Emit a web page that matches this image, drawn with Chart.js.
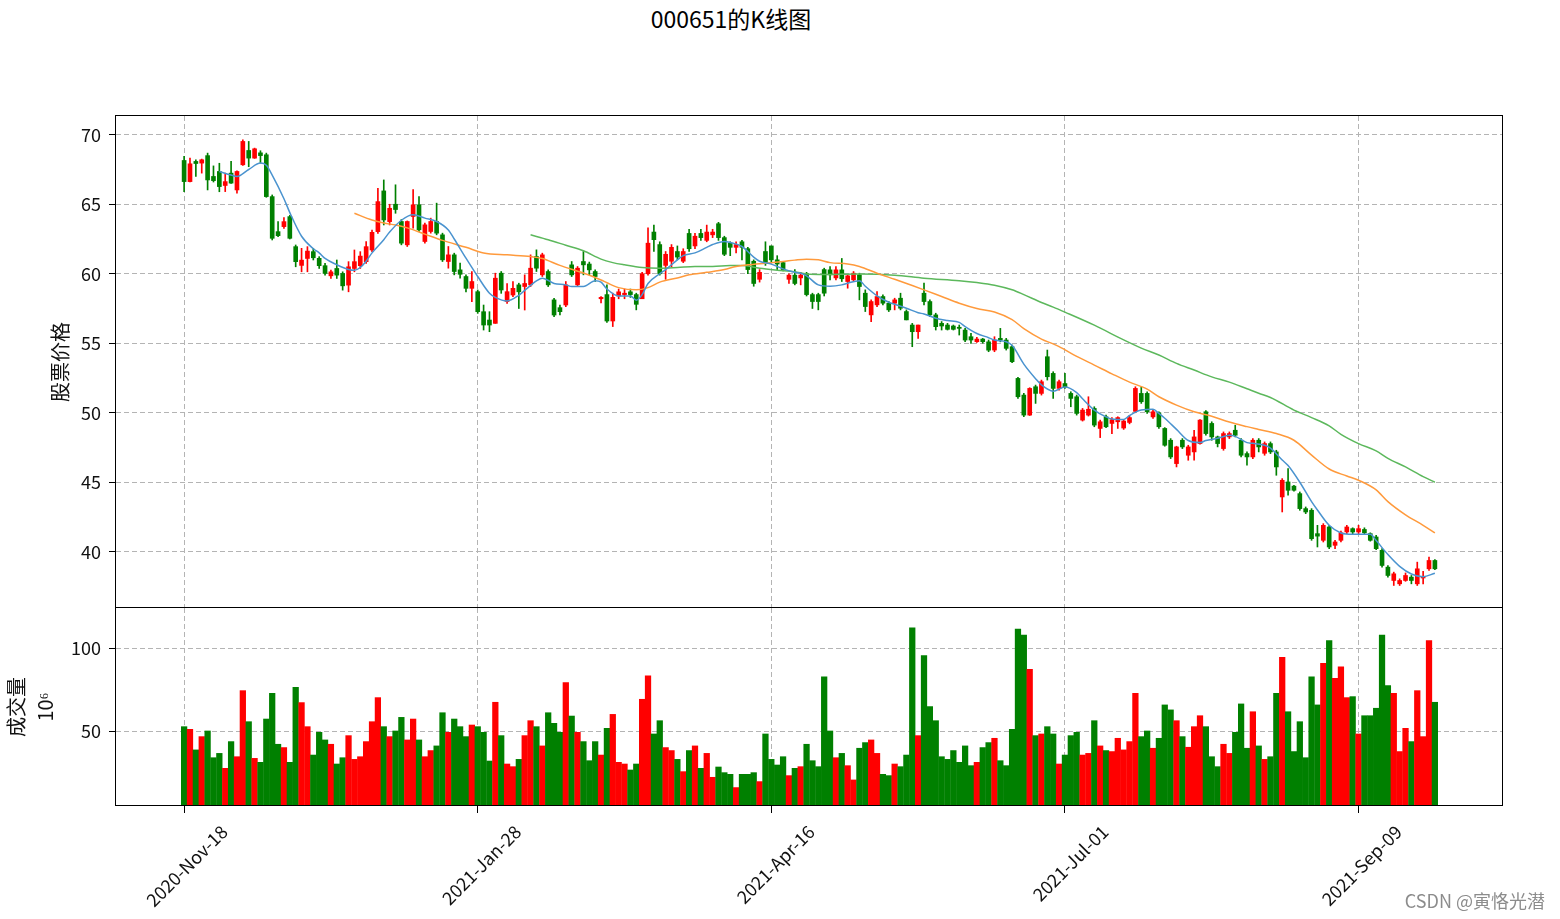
<!DOCTYPE html>
<html><head><meta charset="utf-8">
<script src="https://cdn.jsdelivr.net/npm/chart.js@4.4.0/dist/chart.umd.min.js"></script>
<style>
html,body{margin:0;padding:0;background:#fff;width:1560px;height:919px;overflow:hidden;}
canvas{position:absolute;left:0;top:0;}
#title{position:absolute;left:0;top:0;width:1462px;height:36px;line-height:36px;text-align:center;font-family:"Noto Sans CJK SC";font-size:23px;color:#000;}
#wm{position:absolute;right:15px;top:887px;font-family:"Noto Sans CJK SC";font-size:18px;color:#8c8c8c;}
</style></head><body>
<div id="title">000651的K线图</div>
<canvas id="price" width="1560" height="919"></canvas>
<canvas id="vol" width="1560" height="919"></canvas>
<div id="wm">CSDN @寅恪光潜</div>
<script>
const dateTickIdx = [0, 50, 100, 150, 200];
const dateTickLabels = ['2020-Nov-18', '2021-Jan-28', '2021-Apr-16', '2021-Jul-01', '2021-Sep-09'];
const priceTicks = [40, 45, 50, 55, 60, 65, 70];
const volTicks = [50, 100];

const opens = [68.15,66.63,68.08,67.96,68.5,67.0,67.36,66.35,67.24,66.03,
67.84,68.87,68.32,68.7,68.56,65.55,63.03,63.39,64.11,61.95,
60.6,61.1,61.59,61.11,60.58,59.85,60.38,60.02,59.18,60.38,
60.58,60.87,61.71,63.03,65.96,63.75,65.0,63.76,62.08,64.12,
64.96,62.32,63.04,63.76,62.8,60.88,61.36,60.28,59.8,58.95,
58.71,57.27,56.67,56.43,60.04,58.0,58.47,59.2,59.08,59.2,
61.24,59.92,60.16,58.12,57.56,57.75,60.64,59.2,60.88,60.7,
60.16,58.2,58.5,56.6,58.4,58.5,58.7,58.5,58.2,60.0,
63.0,62.1,60.6,60.9,61.6,60.9,62.9,62.0,62.9,62.4,
62.8,63.6,62.6,62.2,61.9,62.3,61.8,60.9,59.6,61.6,
62.0,61.0,60.8,59.6,59.9,59.7,60.0,58.5,58.5,60.3,
60.28,59.7,60.28,59.44,59.56,59.92,58.6,57.04,57.76,58.36,
57.88,57.88,58.24,57.28,56.31,55.83,58.6,58.0,57.04,56.43,
56.31,56.24,56.15,55.95,55.47,55.11,55.3,55.1,54.51,55.35,
55.23,54.75,52.47,51.27,49.83,51.87,51.39,54.03,52.83,51.75,
52.1,51.39,51.15,49.47,49.83,50.31,48.87,49.71,49.23,49.35,
48.9,49.3,50.1,51.39,51.39,49.7,49.99,48.87,48.02,46.34,
48.02,46.94,47.18,47.78,50.07,49.23,48.26,47.42,48.26,48.74,
48.02,47.06,46.82,48.02,47.08,47.78,47.18,43.94,45.02,44.72,
44.18,43.1,42.98,41.3,40.82,41.78,40.46,40.82,41.42,41.66,
41.42,41.6,41.3,41.06,40.1,38.89,37.93,37.69,37.93,38.17,
37.69,38.11,38.77,39.37];

const highs = [68.44,68.32,68.2,68.25,68.68,67.76,67.95,67.24,68.08,67.4,
69.64,69.52,69.04,68.85,68.68,65.67,63.75,64.04,64.2,62.07,
61.83,61.95,61.83,61.23,60.75,60.26,60.99,60.14,60.87,61.71,
61.59,62.31,63.15,66.15,66.75,65.0,66.4,63.9,63.8,66.05,
65.56,63.64,64.0,65.08,62.92,61.96,61.48,60.76,59.92,60.16,
58.83,57.75,57.27,60.04,60.16,59.3,59.44,59.32,59.92,61.36,
61.72,61.48,60.28,58.23,57.75,59.44,60.88,60.52,61.6,60.84,
60.28,58.35,59.2,58.6,58.9,58.9,58.9,58.6,60.1,63.3,
63.5,62.3,61.6,62.1,62.0,61.8,63.2,62.9,63.2,63.5,
63.2,63.7,62.7,62.3,62.3,62.4,61.9,61.0,60.3,62.3,
62.0,61.3,60.9,60.0,60.3,60.1,60.1,58.6,58.6,60.4,
60.52,60.52,61.1,59.92,60.16,60.04,58.84,58.12,58.72,58.48,
58.0,58.24,58.6,57.4,56.43,56.31,59.32,58.12,57.16,56.56,
56.43,56.31,56.31,56.07,55.71,55.42,55.35,55.23,55.47,56.07,
55.35,54.87,52.55,51.39,51.8,51.99,52.35,54.51,52.95,52.35,
52.83,51.51,51.27,50.31,51.15,50.43,49.47,49.83,49.65,49.71,
49.5,49.8,51.87,51.87,51.51,50.19,50.07,48.93,48.14,47.59,
48.14,47.66,48.74,49.5,50.15,49.35,48.32,48.62,48.62,49.1,
48.14,47.18,48.14,48.14,47.9,47.9,47.3,45.26,45.98,44.78,
44.3,43.22,43.1,41.9,42.02,41.9,40.82,41.48,41.9,41.72,
41.9,41.72,41.36,41.18,40.22,39.01,38.53,38.05,38.47,38.29,
39.25,38.59,39.62,39.43];

const lows = [65.91,66.6,67.0,67.24,66.03,66.6,65.9,65.91,66.5,65.8,
67.8,67.7,68.3,67.96,65.5,62.43,62.67,63.27,62.5,60.5,
60.14,60.14,60.99,60.38,59.9,59.66,59.66,58.82,58.7,60.14,
60.38,60.75,61.59,62.9,63.51,63.51,64.35,62.08,61.96,63.28,
63.04,62.2,62.92,62.8,60.88,60.4,59.92,59.68,58.7,57.99,
57.15,55.95,55.83,56.43,58.59,57.87,58.35,57.5,57.39,59.08,
60.16,59.8,59.08,56.91,57.03,57.63,59.8,59.08,59.92,59.92,
59.44,57.9,56.5,56.2,58.2,58.2,58.3,57.4,58.2,59.9,
61.6,59.9,59.6,60.5,61.0,60.8,61.6,61.8,62.4,62.3,
62.6,62.4,61.3,61.3,61.5,61.0,60.0,59.1,59.4,60.6,
60.8,60.3,60.2,59.3,59.2,59.2,58.4,57.5,57.4,58.4,
59.56,59.56,59.44,58.96,59.44,58.12,57.28,56.56,57.64,57.76,
57.28,57.4,57.4,56.68,54.75,55.35,57.76,56.92,55.95,55.95,
55.95,55.95,55.59,55.11,54.99,55.06,55.0,54.39,54.39,55.1,
54.51,53.6,51.03,49.71,49.8,50.67,51.27,52.35,51.03,51.63,
51.75,50.43,49.83,49.4,49.76,48.99,48.21,48.93,48.5,48.87,
48.8,49.2,50.0,50.67,49.95,49.59,48.87,47.59,46.7,46.1,
47.42,46.58,46.58,47.74,48.38,48.02,47.54,47.3,48.14,48.26,
46.82,46.22,46.7,47.18,46.94,47.06,45.5,42.86,44.06,44.36,
42.98,42.74,40.82,40.34,40.7,40.22,40.22,40.7,41.3,41.3,
41.3,41.24,40.76,40.15,38.89,38.17,37.57,37.57,37.87,37.69,
37.57,37.69,38.65,38.71];

const closes = [66.63,67.91,67.93,68.2,66.75,66.7,66.27,66.63,66.52,67.36,
69.52,68.32,68.99,68.5,65.55,62.55,62.74,63.75,62.55,60.87,
60.98,61.63,61.15,60.58,60.02,60.14,59.9,59.13,60.5,60.87,
61.27,61.95,62.98,65.19,63.87,64.71,64.62,62.2,63.76,64.96,
63.16,63.52,63.76,62.92,61.0,61.36,60.16,59.96,58.95,59.44,
57.27,56.31,56.31,59.68,58.83,58.71,58.95,58.7,59.3,60.4,
60.4,61.36,59.2,57.03,57.27,59.2,59.92,60.4,60.64,60.28,
59.8,58.3,56.6,58.3,58.7,58.6,58.5,57.8,60.0,62.2,
62.45,60.0,61.4,61.9,61.2,61.6,61.8,62.7,62.6,63.0,
63.0,62.6,61.4,61.9,62.1,61.9,60.3,59.3,60.1,60.8,
61.0,60.7,60.3,59.9,59.3,59.9,58.5,58.0,58.0,58.6,
59.92,60.28,59.64,59.85,60.04,59.08,57.64,58.0,58.36,57.88,
57.4,58.12,57.52,56.68,55.83,56.31,58.0,57.04,56.19,56.24,
56.0,56.0,56.07,55.23,55.23,55.3,55.11,54.5,55.23,55.23,
54.63,53.67,51.15,49.83,51.75,51.39,52.23,52.59,51.75,52.23,
51.87,51.03,49.95,50.19,50.25,49.11,49.35,48.99,49.5,49.65,
49.4,49.65,51.75,50.79,50.07,50.07,48.99,47.66,46.82,47.54,
47.54,47.54,48.26,49.47,48.5,48.26,47.78,48.5,48.5,48.38,
46.94,46.82,48.02,47.54,47.78,47.18,46.1,45.14,44.42,44.42,
43.1,42.86,40.94,41.12,41.9,40.34,40.7,41.36,41.78,41.42,
41.66,41.36,40.82,40.22,39.01,38.29,38.41,37.93,38.29,37.93,
38.77,38.23,39.37,38.77];

const volumes = [52.8,51.2,38.8,46.8,50.2,34.1,36.7,27.7,43.8,34.7,
74.5,55.8,33.7,31.3,57.4,72.9,42.2,40.2,31.3,76.5,
67.3,52.8,35.7,49.4,44.8,42.2,30.3,34.1,47.4,33.1,
34.7,43.8,55.8,70.3,52.8,46.8,50.2,58.4,44.8,57.4,
44.8,34.7,38.4,41.2,61.2,49.4,57.4,52.8,46.8,53.8,
52.8,49.4,32.1,67.5,47.4,30.3,28.7,33.1,47.4,56.4,
52.8,41.2,61.2,54.8,49.4,79.3,59.2,49.4,43.8,32.3,
43.8,35.7,51.8,60.2,31.3,30.3,26.7,30.3,69.3,83.5,
48.4,56.4,40.2,38.4,33.1,25.7,38.4,41.2,27.7,36.7,
22.3,28.5,25.1,24.1,16.1,24.1,24.1,25.1,19.7,48.4,
33.1,29.7,34.7,23.3,27.7,28.7,42.2,32.3,28.7,82.9,
50.2,34.1,36.7,29.3,20.7,39.8,43.2,44.8,36.7,24.1,
23.3,30.3,28.7,35.7,112.4,47.4,95.6,64.9,56.4,34.7,
33.1,38.4,31.3,41.2,29.3,31.3,40.2,43.2,45.8,32.3,
29.3,51.2,111.6,108.0,87.3,47.4,48.4,52.8,48.4,30.3,
35.7,47.4,49.4,35.7,36.7,56.4,41.2,38.4,37.8,45.8,
38.8,43.8,72.9,46.8,50.2,39.8,45.8,65.9,62.9,56.4,
46.8,40.4,52.8,59.4,52.8,34.7,28.7,42.2,36.7,49.4,
66.5,39.8,61.8,41.2,33.1,34.7,72.9,94.6,61.8,37.8,
55.8,34.1,82.9,65.9,91.0,104.6,81.9,88.9,70.3,70.9,
48.4,59.4,59.4,63.9,108.0,77.5,72.9,37.8,51.8,43.8,
74.5,46.8,104.6,67.5];

// moving averages (trading-day index, value)
const maFastIdx = [6,8,9,11,13,14,15,17,18,20,22,23,24,26,28,29,30,31,32,34,35,37,39,41,43,45,46,48,50,52,53,55,57,58,60,61,63,65,66,68,70,71,72,74,76,77,78,79,81,82,84,85,87,89,90,92,93,95,97,98,100,102,104,105,106,108,110,112,113,115,116,118,120,121,123,125,126,128,130,132,133,135,137,138,140,141,143,145,146,148,150,152,153,155,157,158,160,161,163,165,166,167,169,171,173,174,176,178,179,181,182,184,185,187,188,190,192,193,195,197,199,200,202,203,205,207,209,211,213];
const maFastVal = [67.36,67.1,67.0,67.5,67.96,67.8,67.1,65.4,64.4,62.7,61.8,61.5,61.1,60.65,60.31,60.25,60.45,60.9,61.5,62.45,63.0,63.85,64.24,64.0,63.76,63.15,62.5,61.12,59.8,58.6,58.3,58.04,58.45,58.8,59.48,59.68,59.3,59.2,59.08,59.08,59.5,59.4,58.9,58.4,58.4,58.1,58.5,59.3,60.0,60.3,61.0,61.3,61.5,61.9,62.1,62.32,62.25,61.96,61.2,60.9,60.69,60.35,60.1,60.04,59.85,59.2,59.1,59.2,59.32,59.5,59.1,58.41,57.95,57.8,57.52,57.2,57.1,56.8,56.63,56.5,56.2,55.7,55.4,55.23,55.11,54.85,53.5,52.45,52.0,51.55,51.85,51.45,51.0,50.19,49.7,49.55,49.51,49.8,50.19,50.25,49.95,49.6,48.8,48.0,47.85,48.0,48.16,48.38,48.3,47.85,47.8,47.66,47.45,46.6,46.2,45.0,43.6,43.0,41.9,41.35,41.25,41.25,41.25,40.8,39.8,38.95,38.4,38.2,38.45];
const maMidIdx = [29,32,34,36,38,41,44,48,51,55,59,61,64,68,71,72,74,77,79,81,84,86,89,92,94,96,99,102,104,106,108,110,113,115,118,121,124,126,129,132,135,138,141,143,146,148,149,152,155,158,161,164,166,169,172,175,178,181,183,186,189,192,195,198,200,203,205,208,211,213];
const maMidVal = [64.35,63.87,63.65,63.5,63.3,62.85,62.4,61.9,61.5,61.36,61.24,61.1,60.6,60.05,59.55,59.35,59.0,58.84,59.0,59.4,59.7,59.92,60.1,60.3,60.52,60.64,60.76,60.88,60.98,61.05,61.0,60.8,60.7,60.52,60.04,59.6,59.15,58.84,58.36,57.88,57.5,57.25,56.7,56.05,55.3,54.95,54.76,54.05,53.43,52.8,52.2,51.7,51.15,50.55,50.07,49.75,49.33,49.0,48.8,48.5,48.02,46.95,45.95,45.45,45.14,44.45,43.6,42.65,41.9,41.35];
const maSlowIdx = [59,62,65,68,71,73,75,78,81,84,87,90,93,95,98,101,104,106,109,115,121,126,132,135,138,141,143,146,148,150,155,160,163,166,169,172,175,178,181,183,185,189,192,195,197,200,203,205,208,211,213];
const maSlowVal = [62.8,62.45,62.05,61.65,61.05,60.8,60.64,60.45,60.4,60.45,60.52,60.52,60.59,60.59,60.4,60.26,60.14,59.98,59.95,59.98,59.9,59.68,59.5,59.37,59.18,58.85,58.5,57.93,57.6,57.24,56.3,55.24,54.65,54.15,53.55,53.07,52.58,52.2,51.72,51.4,51.1,50.19,49.65,49.05,48.45,47.78,47.25,46.72,46.1,45.4,45.0];

const UP = '#ff0000', DOWN = '#008000';
const candleColors = opens.map((o, i) => closes[i] >= o ? UP : DOWN);
const FONT = 'Noto Sans CJK SC';
const GRID = '#b4b4b4';
const DASH = [5, 3];

const frame = {
  id: 'frame',
  afterDatasetsDraw(chart) {
    const a = chart.chartArea, ctx = chart.ctx;
    const x1 = Math.round(a.left) - 0.5, y1 = Math.round(a.top) - 0.5;
    const x2 = Math.round(a.right) - 0.5, y2 = Math.round(a.bottom) - 0.5;
    ctx.save();
    ctx.strokeStyle = '#000';
    ctx.lineWidth = 1;
    ctx.strokeRect(x1, y1, x2 - x1, y2 - y1);
    ctx.restore();
  }
};

const pts = (idx, val) => idx.map((x, k) => ({x, y: val[k]}));
const setTicks = vals => s => { s.ticks = vals.map(v => ({value: v})); };
const xMin = -11.6, xMax = 224.6;

new Chart(document.getElementById('price'), {
  type: 'bar',
  data: {
    datasets: [
      {type: 'line', label: 'MA7', data: pts(maFastIdx, maFastVal), borderColor: '#4a93cf', borderWidth: 1.5, pointRadius: 0, cubicInterpolationMode: 'monotone', order: 0, clip: 0},
      {type: 'line', label: 'MA30', data: pts(maMidIdx, maMidVal), borderColor: '#ff9a3c', borderWidth: 1.5, pointRadius: 0, cubicInterpolationMode: 'monotone', order: 0, clip: 0},
      {type: 'line', label: 'MA60', data: pts(maSlowIdx, maSlowVal), borderColor: '#5cb85c', borderWidth: 1.5, pointRadius: 0, cubicInterpolationMode: 'monotone', order: 0, clip: 0},
      {label: 'body', data: opens.map((o, i) => ({x: i, y: [o, closes[i]]})), backgroundColor: candleColors, barThickness: 4, minBarLength: 1, grouped: false, order: 1, clip: 0},
      {label: 'wick', data: lows.map((l, i) => ({x: i, y: [l, highs[i]]})), backgroundColor: candleColors, barThickness: 1, grouped: false, order: 2, clip: 0}
    ]
  },
  options: {
    responsive: false, animation: false, devicePixelRatio: 1,
    layout: {padding: {top: 116, bottom: 311, left: 0, right: 57}},
    plugins: {legend: {display: false}, tooltip: {enabled: false}, title: {display: false}},
    scales: {
      x: {type: 'linear', min: xMin, max: xMax, offset: false,
          afterBuildTicks: setTicks(dateTickIdx),
          ticks: {display: false},
          grid: {color: GRID, drawTicks: false, offset: false},
          border: {display: false, dash: DASH},
          afterFit: s => { s.height = 0; }},
      y: {min: 35.95, max: 71.35,
          afterBuildTicks: setTicks(priceTicks),
          ticks: {font: {family: FONT, size: 18}, color: '#111', padding: 8},
          grid: {color: GRID, tickColor: '#000', tickLength: 7},
          border: {display: false, dash: DASH},
          title: {display: true, text: '股票价格', font: {family: FONT, size: 20}, color: '#111', padding: {top: 48, bottom: 0}},
          afterFit: s => { s.width = 116; }}
    }
  },
  plugins: [frame]
});

new Chart(document.getElementById('vol'), {
  type: 'bar',
  data: {
    datasets: [
      {label: 'volume', data: volumes.map((v, i) => ({x: i, y: v})), backgroundColor: candleColors, barThickness: 5.6, grouped: false, clip: 0}
    ]
  },
  options: {
    responsive: false, animation: false, devicePixelRatio: 1,
    layout: {padding: {top: 608, bottom: 0, left: 0, right: 57}},
    plugins: {legend: {display: false}, tooltip: {enabled: false}},
    scales: {
      x: {type: 'linear', min: xMin, max: xMax, offset: false,
          afterBuildTicks: setTicks(dateTickIdx),
          ticks: {autoSkip: false, minRotation: 45, maxRotation: 45, labelOffset: 40, padding: 8,
                  font: {family: FONT, size: 18}, color: '#111',
                  callback: v => { const k = dateTickIdx.indexOf(v); return k >= 0 ? dateTickLabels[k] : ''; }},
          grid: {color: GRID, tickColor: '#000', tickLength: 7, offset: false},
          border: {display: false, dash: DASH},
          afterFit: s => { s.height = 113; }},
      y: {min: 5.0, max: 124.3,
          afterBuildTicks: setTicks(volTicks),
          ticks: {font: {family: FONT, size: 18}, color: '#111', padding: 8},
          grid: {color: GRID, tickColor: '#000', tickLength: 7},
          border: {display: false, dash: DASH},
          title: {display: true, text: ['成交量', '10⁶'], font: {family: FONT, size: 20, lineHeight: 1.45}, color: '#111', padding: {top: 1.5, bottom: 0}},
          afterFit: s => { s.width = 116; }}
    }
  },
  plugins: [frame]
});
</script>
</body></html>
